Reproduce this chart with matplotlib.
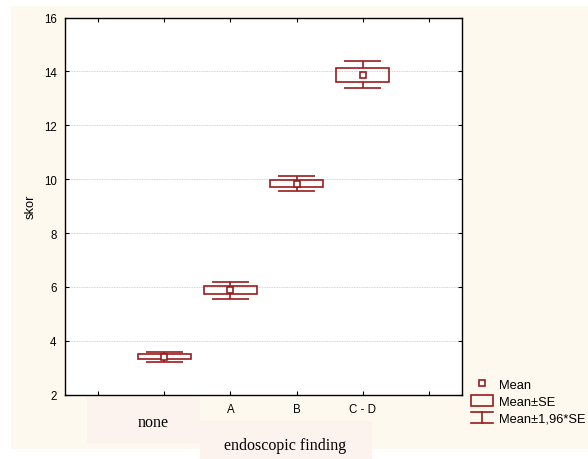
import matplotlib
matplotlib.use("Agg")
import matplotlib.pyplot as plt
from matplotlib.patches import Rectangle
from matplotlib.lines import Line2D
from matplotlib.legend_handler import HandlerBase

# ---- data ----
groups = ["none", "A", "B", "C - D"]
means = [3.415, 5.88, 9.835, 13.875]
se = [0.095, 0.16, 0.135, 0.255]
tick_labels = ["", "", "A", "B", "C - D", ""]
yticks = [2, 4, 6, 8, 10, 12, 14, 16]

RED = "#991b1e"
W, H = 588, 460
fig = plt.figure(figsize=(W / 100, H / 100), dpi=100, facecolor="white")
plt.rcParams["font.family"] = ["Liberation Sans", "DejaVu Sans"]

def px_rect(x0, y0, x1, y1, color):
    fig.patches.append(Rectangle((x0 / W, 1 - y1 / H), (x1 - x0) / W, (y1 - y0) / H,
                                 transform=fig.transFigure, facecolor=color,
                                 edgecolor="none", zorder=-10))

px_rect(11, 7, 588, 450, "#fef9ef")
px_rect(87, 398, 200, 444, "#fcf3ee")
px_rect(200, 422, 372, 460, "#fcf3ee")

ax = fig.add_axes([65 / W, 1 - 395.7 / H, (462 - 65) / W, (395.7 - 18.5) / H])
ax.set_facecolor("white")
ax.set_xlim(0, 6)
ax.set_ylim(2, 16)

pos = [1.5, 2.5, 3.5, 4.5]
lo = [m - s for m, s in zip(means, se)]
ax.bar(pos, [2 * s for s in se], bottom=lo, width=0.8, fill=False,
       edgecolor=RED, linewidth=1.2, zorder=3)
for p, m, s in zip(pos, means, se):
    w = 1.96 * s
    ax.vlines(p, m + s, m + w, color=RED, linewidth=1.2, zorder=3)
    ax.vlines(p, m - w, m - s, color=RED, linewidth=1.2, zorder=3)
    ax.hlines([m + w, m - w], p - 0.28, p + 0.28, color=RED, linewidth=1.2, zorder=3)
ax.plot(pos, means, ls="none", marker="s", ms=5, mfc="white", mec=RED, mew=1.2, zorder=4)

ax.set_xticks([0.5, 1.5, 2.5, 3.5, 4.5, 5.5])
ax.set_xticklabels(tick_labels)
ax.set_yticks(yticks)
ax.tick_params(direction="in", top=True, right=True, labelsize=8.3, length=3,
               width=0.8, pad=6)
ax.grid(axis="y", color="#c4c4c4", linestyle=(0, (1, 1)), linewidth=0.6)
ax.set_axisbelow(True)
for sp in ax.spines.values():
    sp.set_linewidth(1.0)
    sp.set_color("black")
ax.set_ylabel("skor", fontsize=9.3, labelpad=5)

fig.text(153 / W, 1 - 423 / H, groups[0], fontsize=11.5, family="Liberation Serif",
         ha="center", va="center")
fig.text(285 / W, 1 - 446 / H, "endoscopic finding", fontsize=11.5,
         family="Liberation Serif", ha="center", va="center")


class WhiskerHandler(HandlerBase):
    def create_artists(self, legend, orig_handle, xdescent, ydescent, width, height,
                       fontsize, trans):
        x0, x1 = -xdescent, -xdescent + width
        y0, y1 = -ydescent, -ydescent + height
        xm = (x0 + x1) / 2
        arts = [Line2D([x0, x1], [y1, y1]), Line2D([x0, x1], [y0, y0]),
                Line2D([xm, xm], [y0, y1])]
        for a in arts:
            a.set_color(RED)
            a.set_linewidth(1.2)
            a.set_transform(trans)
        return arts


h_mean = Line2D([], [], ls="none", marker="s", ms=4, mfc="white", mec=RED, mew=1.2)
h_box = Rectangle((0, 0), 1, 1, fill=False, edgecolor=RED, linewidth=1.2)
h_wh = Line2D([], [])
fig.legend([h_mean, h_box, h_wh], ["Mean", "Mean±SE", "Mean±1,96*SE"],
           handler_map={h_wh: WhiskerHandler()},
           loc="upper left", bbox_to_anchor=(471 / W, 1 - 379 / H),
           frameon=False, fontsize=9.3, handlelength=1.7, handleheight=1.0,
           labelspacing=0.28, handletextpad=0.5, borderpad=0, borderaxespad=0)

fig.savefig("out.png", dpi=100)
